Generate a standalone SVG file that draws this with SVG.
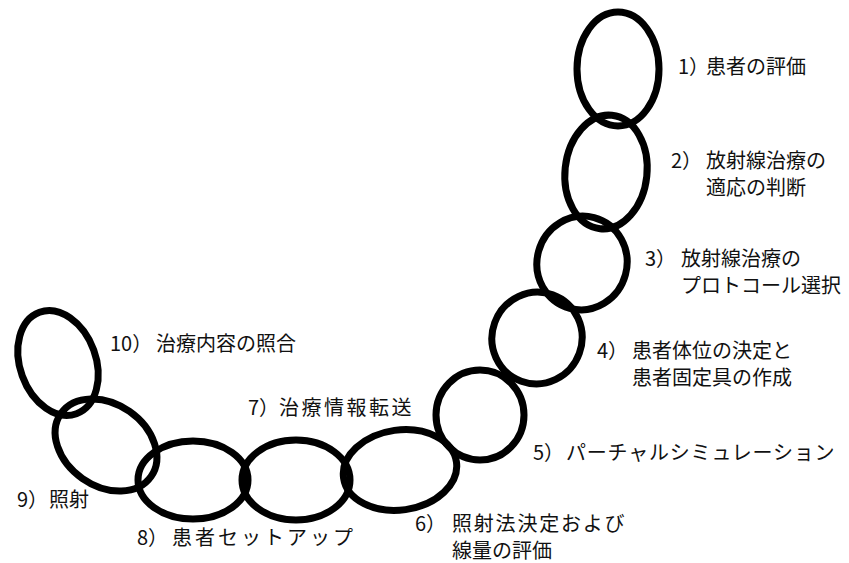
<svg xmlns="http://www.w3.org/2000/svg" width="849" height="563" viewBox="0 0 849 563">
<style>
.ring{fill:none;stroke:#000;stroke-width:7}
.lbl{font-family:"Noto Sans CJK JP","Noto Sans",sans-serif;font-size:20px;fill:#111}
</style>
<rect width="849" height="563" fill="#fff"/>
<g id="step1">
<ellipse class="ring" cx="618" cy="69" rx="41" ry="57"/>
<text class="lbl" y="74"><tspan x="678">1）</tspan><tspan x="706">患者の評価</tspan></text>
</g>
<g id="step2">
<ellipse class="ring" cx="606" cy="172" rx="41" ry="57" transform="rotate(6 606 172)"/>
<text class="lbl" y="168"><tspan x="671">2）</tspan><tspan x="706">放射線治療の</tspan></text>
<text class="lbl" x="706" y="195">適応の判断</text>
</g>
<g id="step3">
<ellipse class="ring" cx="582" cy="263" rx="45" ry="47" transform="rotate(15 582 263)"/>
<text class="lbl" y="266"><tspan x="645">3）</tspan><tspan x="681">放射線治療の</tspan></text>
<text class="lbl" x="681" y="293">プロトコール選択</text>
</g>
<g id="step4">
<ellipse class="ring" cx="537" cy="338" rx="45" ry="46" transform="rotate(20 537 338)"/>
<text class="lbl" y="358"><tspan x="597">4）</tspan><tspan x="632">患者体位の決定と</tspan></text>
<text class="lbl" x="632" y="385">患者固定具の作成</text>
</g>
<g id="step5">
<ellipse class="ring" cx="480" cy="415" rx="44" ry="45"/>
<text class="lbl" y="460"><tspan x="533">5）</tspan><tspan x="566" letter-spacing="0.8">パーチャルシミュレーション</tspan></text>
</g>
<g id="step6">
<ellipse class="ring" cx="400" cy="470" rx="57" ry="40" transform="rotate(-8 400 470)"/>
<text class="lbl" y="531"><tspan x="415">6）</tspan><tspan x="452" letter-spacing="1.8">照射法決定および</tspan></text>
<text class="lbl" x="452" y="558">線量の評価</text>
</g>
<g id="step7">
<ellipse class="ring" cx="296" cy="480" rx="54" ry="40"/>
<text class="lbl" y="415"><tspan x="248">7）</tspan><tspan x="279" letter-spacing="2.5">治療情報転送</tspan></text>
</g>
<g id="step8">
<ellipse class="ring" cx="193" cy="480" rx="55" ry="39"/>
<text class="lbl" y="545"><tspan x="137">8）</tspan><tspan x="172" letter-spacing="3">患者セットアップ</tspan></text>
</g>
<g id="step9">
<ellipse class="ring" cx="106" cy="445" rx="55" ry="41" transform="rotate(35 106 445)"/>
<text class="lbl" y="507"><tspan x="17">9）</tspan><tspan x="49">照射</tspan></text>
</g>
<g id="step10">
<ellipse class="ring" cx="58" cy="363" rx="38" ry="54" transform="rotate(-20 58 363)"/>
<text class="lbl" y="351"><tspan x="110">10）</tspan><tspan x="156">治療内容の照合</tspan></text>
</g>
<g id="connectors"/>
</svg>
